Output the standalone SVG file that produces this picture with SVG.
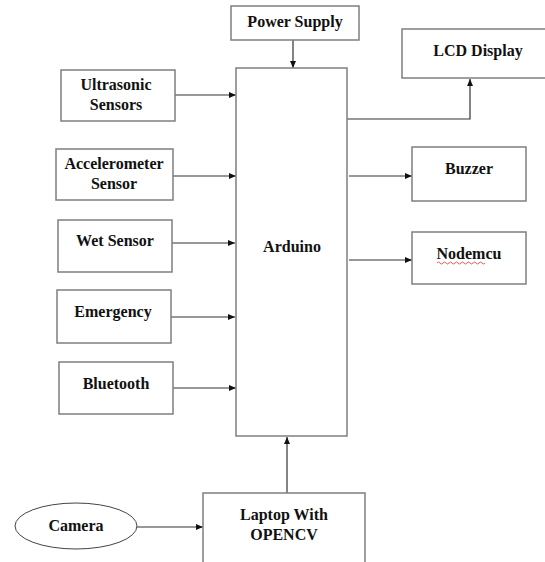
<svg xmlns="http://www.w3.org/2000/svg" width="545" height="562" viewBox="0 0 545 562">
<defs>
<style>
.box{fill:#fff;stroke:#7f7f7f;stroke-width:1.5}
.c{stroke:#333;stroke-width:1.2;fill:none;marker-end:url(#ah)}
</style>
<marker id="ah" markerWidth="8" markerHeight="8" refX="7" refY="4" orient="auto" markerUnits="userSpaceOnUse">
<path d="M0,1 L7,4 L0,7 z" fill="#111"/>
</marker>
</defs>
<rect width="545" height="562" fill="#fff"/>
<g id="connectors">
<path class="c" d="M293,40 V68"/>
<path class="c" d="M347,119 H470 V79"/>
<path class="c" d="M175,95 H236"/>
<path class="c" d="M173,176 H236"/>
<path class="c" d="M172,243 H235"/>
<path class="c" d="M171,317 H235"/>
<path class="c" d="M173,388 H236"/>
<path class="c" d="M349,176 H412"/>
<path class="c" d="M349,260 H412"/>
<path class="c" d="M287,493 V437"/>
<path class="c" d="M136,527 H203"/>
</g>
<g font-family="Liberation Serif, serif" font-weight="bold" font-size="16" fill="#111" text-anchor="middle">
<g id="power"><rect class="box" x="231" y="6" width="128" height="34"/><text x="295" y="27">Power Supply</text></g>
<g id="arduino"><rect class="box" x="236" y="68" width="111" height="368"/><text x="292" y="252">Arduino</text></g>
<g id="lcd"><rect class="box" x="402" y="29" width="145" height="49"/><text x="478" y="56">LCD Display</text></g>
<g id="ultrasonic"><rect class="box" x="61" y="70" width="114" height="51"/><text x="116" y="90">Ultrasonic</text><text x="116" y="110">Sensors</text></g>
<g id="accel"><rect class="box" x="56" y="149" width="117" height="51"/><text x="114" y="169">Accelerometer</text><text x="114" y="189">Sensor</text></g>
<g id="wet"><rect class="box" x="58" y="220" width="114" height="52"/><text x="115" y="246">Wet Sensor</text></g>
<g id="emergency"><rect class="box" x="57" y="290" width="114" height="53"/><text x="113" y="317">Emergency</text></g>
<g id="bluetooth"><rect class="box" x="59" y="362" width="114" height="52"/><text x="116" y="389">Bluetooth</text></g>
<g id="buzzer"><rect class="box" x="412" y="147" width="114" height="54"/><text x="469" y="174">Buzzer</text></g>
<g id="nodemcu"><rect class="box" x="412" y="232" width="114" height="52"/><text x="469" y="259">Nodemcu</text><path d="M437,263 q1.5,-2 3,0 t3,0 t3,0 t3,0 t3,0 t3,0 t3,0 t3,0 t3,0 t3,0 t3,0 t3,0 t3,0 t3,0 t3,0 t3,0" fill="none" stroke="#e03030" stroke-width="0.8"/></g>
<g id="laptop"><rect class="box" x="203" y="493" width="162" height="75"/><text x="284" y="520">Laptop With</text><text x="284" y="540">OPENCV</text></g>
<g id="camera"><ellipse cx="76" cy="526" rx="61" ry="23" fill="#fff" stroke="#444" stroke-width="1"/><text x="76" y="531">Camera</text></g>
</g>
</svg>
